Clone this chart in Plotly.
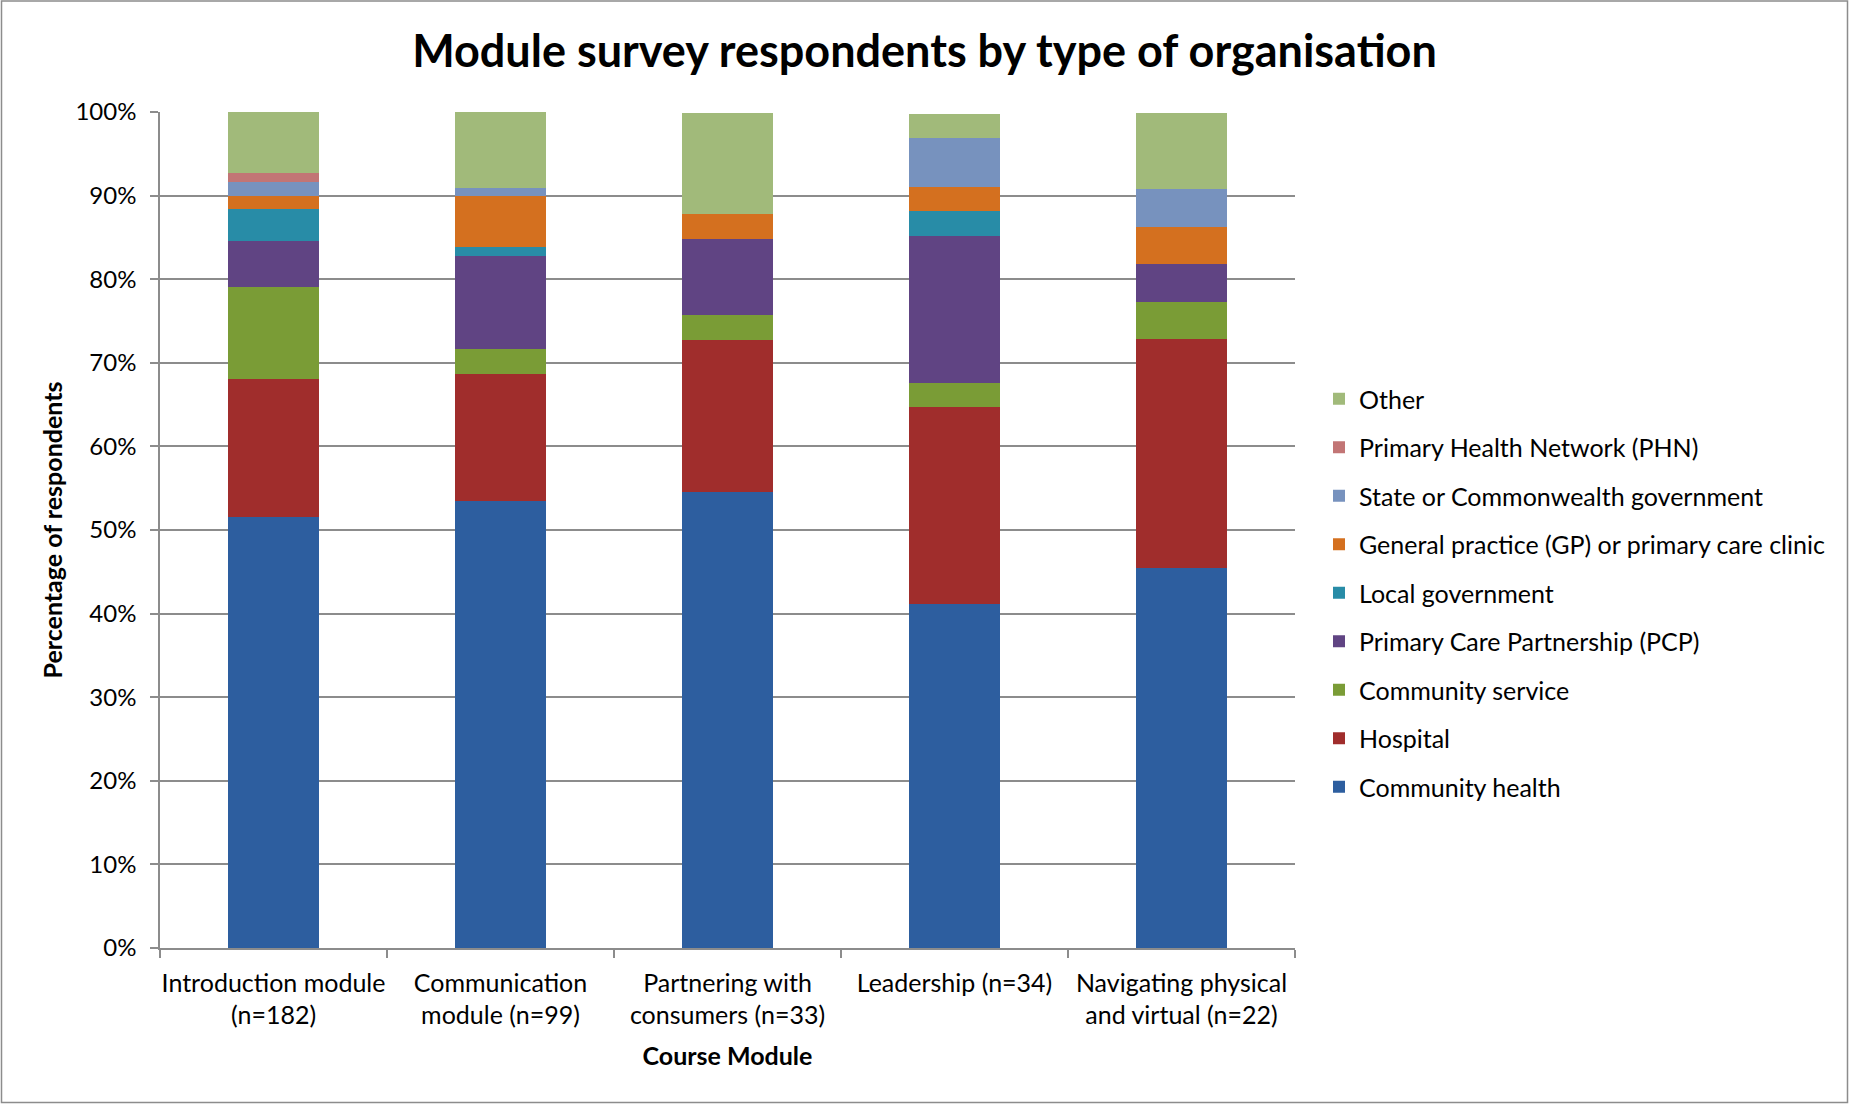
import plotly.graph_objects as go

modules = [
    "Introduction module<br>(n=182)",
    "Communication<br>module (n=99)",
    "Partnering with<br>consumers (n=33)",
    "Leadership (n=34)",
    "Navigating physical<br>and virtual (n=22)",
]

# Percentages of respondents (stack order bottom -> top)
community_health = [51.6, 53.5, 54.5, 41.2, 45.5]
hospital = [16.5, 15.2, 18.2, 23.5, 27.3]
community_service = [11.0, 3.0, 3.0, 2.9, 4.5]
pcp = [5.5, 11.1, 9.1, 17.6, 4.5]
local_government = [3.8, 1.0, 0.0, 2.9, 0.0]
general_practice = [1.6, 6.1, 3.0, 2.9, 4.5]
state_government = [1.6, 1.0, 0.0, 5.9, 4.5]
phn = [1.1, 0.0, 0.0, 0.0, 0.0]
other = [7.3, 9.1, 12.1, 2.9, 9.1]

series = [
    ("Community health", community_health, "#2D5E9F"),
    ("Hospital", hospital, "#A02D2C"),
    ("Community service", community_service, "#7A9C36"),
    ("Primary Care Partnership (PCP)", pcp, "#604483"),
    ("Local government", local_government, "#288CA7"),
    ("General practice (GP) or primary care clinic", general_practice, "#D4701F"),
    ("State or Commonwealth government", state_government, "#7792BE"),
    ("Primary Health Network (PHN)", phn, "#C27575"),
    ("Other", other, "#A1BA7A"),
]

FONT = "Lato"
GRID = "#8C8C8C"

fig = go.Figure()
n = len(series)
for i, (name, vals, color) in enumerate(series):
    fig.add_trace(go.Bar(
        x=modules, y=vals, name=name, legendgroup=name,
        legendrank=n - i,
        marker=dict(color=color, line=dict(width=0)),
    ))

# plot area: x 160..1295, y 112..948 (px)
L, R, T, B = 160, 1295, 112, 948
W, H = 1849, 1104

def px_x(px):
    return (px - L) / (R - L)

def px_y(py):
    return (B - py) / (B - T)

fig.update_layout(
    width=W, height=H,
    margin=dict(l=L, r=W - R, t=T, b=H - B),
    barmode="stack",
    bargap=0.595,
    paper_bgcolor="white",
    plot_bgcolor="white",
    font=dict(family=FONT, color="#000000", size=24),
    title=dict(
        text="<b>Module survey respondents by type of organisation</b>",
        font=dict(family=FONT, size=45, color="#000000"),
        x=0.5, xanchor="center", xref="container",
        y=1 - 51 / H, yanchor="middle", yref="container",
    ),
    legend=dict(
        x=px_x(1319), xanchor="left",
        y=px_y(593), yanchor="middle",
        traceorder="grouped",
        tracegroupgap=13,
        font=dict(family=FONT, size=25, color="#000000"),
        bgcolor="rgba(0,0,0,0)",
    ),
    xaxis=dict(
        automargin=False,
        showline=True, linecolor=GRID, linewidth=1.5,
        ticks="outside", tickson="boundaries", ticklen=8,
        tickcolor=GRID, tickwidth=1.5,
        tickangle=0,
        ticklabelstandoff=12,
        showgrid=False,
        tickfont=dict(family=FONT, size=25, color="#000000"),
        title=dict(text="<b>Course Module</b>", standoff=19,
                   font=dict(family=FONT, size=25, color="#000000")),
    ),
    yaxis=dict(
        automargin=False,
        range=[0, 100], dtick=10, ticksuffix="%",
        showline=True, linecolor=GRID, linewidth=1.5,
        ticks="outside", ticklen=8, tickcolor=GRID, tickwidth=1.5,
        ticklabelstandoff=9,
        showgrid=True, gridcolor=GRID, gridwidth=1.5,
        zeroline=False,
        tickfont=dict(family=FONT, size=24, color="#000000"),
        title=dict(text="<b>Percentage of respondents</b>", standoff=6,
                   font=dict(family=FONT, size=25, color="#000000")),
    ),
    shapes=[dict(
        type="rect", xref="paper", yref="paper",
        x0=px_x(1.5), x1=px_x(1847.5), y0=px_y(1102.5), y1=px_y(1.0),
        line=dict(color="#8C8C8C", width=1.5), fillcolor="rgba(0,0,0,0)",
        layer="below",
    )],
)

fig.write_html(
    "out.html",
    config={"displayModeBar": False},
    post_script="document.body.style.margin='0px';",
)
